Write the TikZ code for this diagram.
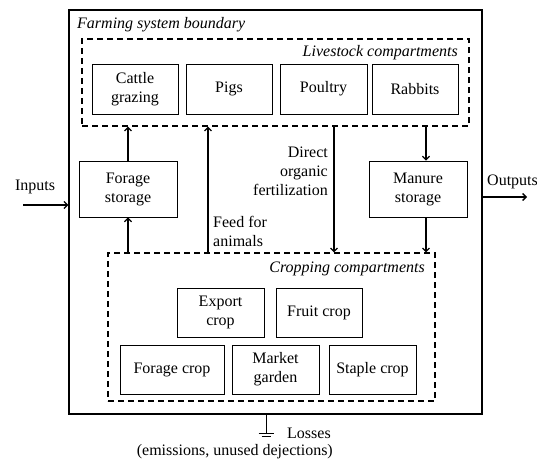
\documentclass[tikz,border=0pt]{standalone}
\usepackage{fontspec}
\setmainfont{Liberation Serif}
\usetikzlibrary{arrows.meta,positioning,calc}

\begin{document}
\begin{tikzpicture}[
  x=1pt,y=-1pt,
  txt/.style={font=\fontsize{16pt}{19pt}\selectfont,inner sep=0pt},
  comp/.style={draw,line width=0.8pt,minimum width=86pt,minimum height=50pt,align=center,txt},
  store/.style={comp,minimum width=98pt,minimum height=56pt},
  zone/.style={draw,dashed,line width=1.1pt,dash pattern=on 6pt off 4pt,inner sep=0pt},
  label/.style={txt,font=\fontsize{16pt}{19pt}\selectfont\itshape},
  arr/.style={-{Straight Barb[length=3.5pt,width=7pt]},line width=1.3pt}
]
  \useasboundingbox (0,0) rectangle (537,461);
  % boundary and compartments
  \node[draw,line width=1.2pt,minimum width=413pt,minimum height=404pt,inner sep=0pt] (farm) at (275.5,212) {};
  \node[label,anchor=west] (farmlbl) at (77,25) {Farming system boundary};
  \node[zone,minimum width=387pt,minimum height=87pt] (live) at (275.5,82.5) {};
  \node[label,anchor=east] (livelbl) at (458,53) {Livestock compartments};
  \node[zone,minimum width=327pt,minimum height=148pt] (crop) at (271.5,327) {};
  \node[label,anchor=east] (croplbl) at (425,269) {Cropping compartments};
  % livestock
  \node[comp] (cattle) at (135,89) {Cattle\\grazing};
  \node[comp] (pigs) at (229,89) {Pigs};
  \node[comp,minimum width=87pt] (poultry) at (323.5,89) {Poultry};
  \node[comp] (rabbits) at (415,89) {Rabbits};
  % storages
  \node[store] (forage) at (128,189) {Forage\\storage};
  \node[store] (manure) at (418,189) {Manure\\storage};
  % crops
  \node[comp,minimum width=87pt,minimum height=49pt] (export) at (220.5,312.5) {Export\\crop};
  \node[comp,minimum height=49pt] (fruit) at (319,312.5) {Fruit crop};
  \node[comp,minimum width=104pt,minimum height=49pt] (foragecrop) at (172,369.5) {Forage crop};
  \node[comp,minimum width=87pt,minimum height=49pt] (market) at (275.5,369.5) {Market\\garden};
  \node[comp,minimum width=87pt,minimum height=49pt] (staple) at (372.5,369.5) {Staple crop};
  % flows
  \coordinate (feedx) at (208,0);
  \coordinate (fertx) at (334,0);
  \coordinate (manx) at (426,0);
  \draw[arr] (forage.north) -- (forage.north |- live.south);
  \draw[arr] (forage.south |- crop.north) -- (forage.south);
  \draw[arr] (feedx |- crop.north) -- (feedx |- live.south);
  \draw[arr] (fertx |- live.south) -- (fertx |- crop.north);
  \draw[arr] (manx |- live.south) -- (manx |- manure.north);
  \draw[arr] (manx |- manure.south) -- (manx |- crop.north);
  \node[txt,align=right,anchor=east] (fertlbl) at (328,171) {Direct\\organic\\fertilization};
  \node[txt,align=left,anchor=west] (feedlbl) at (213,231) {Feed for\\animals};
  % inputs, outputs, losses
  \node[txt] (inlbl) at (35,187) {Inputs};
  \coordinate (instart) at (23,205);
  \draw[arr] (instart) -- (instart -| farm.west);
  \node[txt,anchor=west] (outlbl) at (487,182) {Outputs};
  \coordinate (outend) at (527,197);
  \draw[arr] (outend -| farm.east) -- (outend);
  \coordinate (gnd) at (266,433);
  \draw[line width=0.8pt] (gnd |- farm.south) -- (gnd);
  \draw[line width=0.8pt] ($(gnd)+(-7.5,0)$) -- ($(gnd)+(7.5,0)$);
  \draw[line width=1.6pt] ($(gnd)+(-4.5,3.5)$) -- ($(gnd)+(4.5,3.5)$);
  \node[txt,anchor=west] (losslbl) at (287,433) {Losses};
  \node[txt,anchor=east] (losssub) at (333,452) {(emissions, unused dejections)};
\end{tikzpicture}
\end{document}
